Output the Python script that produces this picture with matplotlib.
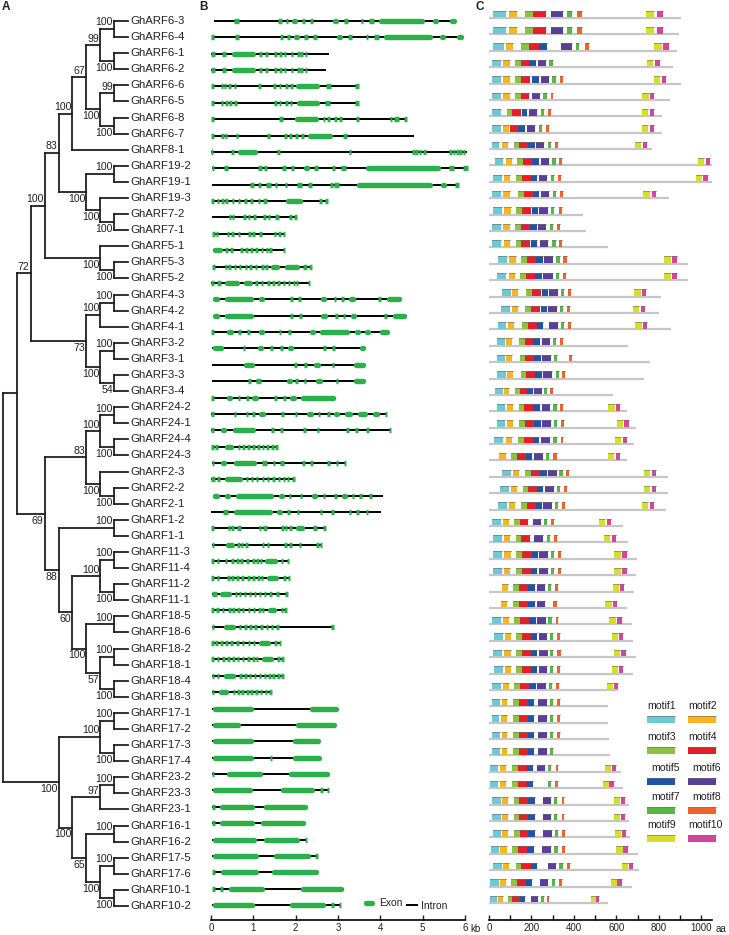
import matplotlib
matplotlib.use('Agg')
import matplotlib.pyplot as plt
from matplotlib.patches import Rectangle

plt.rcParams['font.family'] = ['Liberation Sans', 'DejaVu Sans']

# ---------------- A: tree, node = (depth level, bootstrap, upper child, lower child)
tree = (0, None,
  (1, None,
    (2, 72,
      (3, 100,
        (4, 83,
          (5, 100,
            (6, 67,
              (7, 99, (8, 100, 'GhARF6-3', 'GhARF6-4'), (8, 100, 'GhARF6-1', 'GhARF6-2')),
              (7, 100, (8, 99, 'GhARF6-6', 'GhARF6-5'), (8, 100, 'GhARF6-8', 'GhARF6-7'))),
            'GhARF8-1'),
          (6, 100,
            (8, 100, 'GhARF19-2', 'GhARF19-1'),
            (7, 100, 'GhARF19-3', (8, 100, 'GhARF7-2', 'GhARF7-1')))),
        (7, 100, 'GhARF5-1', (8, 100, 'GhARF5-3', 'GhARF5-2'))),
      (6, 73,
        (7, 100, (8, 100, 'GhARF4-3', 'GhARF4-2'), 'GhARF4-1'),
        (7, 100, (8, 100, 'GhARF3-2', 'GhARF3-1'), (8, 54, 'GhARF3-3', 'GhARF3-4')))),
    (3, 69,
      (6, 83,
        (7, 100, (8, 100, 'GhARF24-2', 'GhARF24-1'), (8, 100, 'GhARF24-4', 'GhARF24-3')),
        (7, 100, 'GhARF2-3', (8, 100, 'GhARF2-2', 'GhARF2-1'))),
      (4, 88,
        (8, 100, 'GhARF1-2', 'GhARF1-1'),
        (5, 60,
          (7, 100, (8, 100, 'GhARF11-3', 'GhARF11-4'), (8, 100, 'GhARF11-2', 'GhARF11-1')),
          (6, 100,
            (8, 100, 'GhARF18-5', 'GhARF18-6'),
            (7, 57, (8, 100, 'GhARF18-2', 'GhARF18-1'), (8, 100, 'GhARF18-4', 'GhARF18-3'))))))),
  (4, 100,
    (7, 100, (8, 100, 'GhARF17-1', 'GhARF17-2'), (8, 100, 'GhARF17-3', 'GhARF17-4')),
    (5, 100,
      (7, 97, (8, 100, 'GhARF23-2', 'GhARF23-3'), 'GhARF23-1'),
      (6, 65,
        (8, 100, 'GhARF16-1', 'GhARF16-2'),
        (7, 100, (8, 100, 'GhARF17-5', 'GhARF17-6'), (8, 100, 'GhARF10-1', 'GhARF10-2'))))))
leaf_level = 9

# ---------------- B: gene structures (kb)
gene_span = [(0.07, 5.80), (0.02, 5.98), (0.0, 2.79), (0.0, 2.71), (0.02, 3.50), (0.02, 3.50),
             (0.02, 4.61), (0.02, 4.80), (0.0, 6.05), (0.02, 6.06), (0.02, 5.86), (0.02, 2.77),
             (0.02, 2.02), (0.04, 1.75), (0.04, 1.74), (0.04, 2.36), (0.0, 2.33), (0.04, 4.50),
             (0.04, 4.63), (0.02, 4.21), (0.02, 3.65), (0.02, 3.65), (0.02, 3.65), (0.02, 2.95),
             (0.0, 4.16), (0.0, 4.25), (0.02, 1.57), (0.02, 3.18), (0.0, 1.97), (0.04, 4.07),
             (0.0, 4.01), (0.02, 2.72), (0.02, 2.62), (0.02, 1.84), (0.02, 1.87), (0.03, 1.80),
             (0.02, 1.77), (0.02, 2.88), (0.02, 1.66), (0.02, 1.71), (0.02, 1.71), (0.02, 1.43),
             (0.02, 3.01), (0.02, 2.97), (0.02, 2.60), (0.02, 2.61), (0.02, 2.80), (0.02, 2.79),
             (0.03, 2.28), (0.03, 2.24), (0.02, 2.26), (0.02, 2.52), (0.04, 2.54), (0.04, 3.13),
             (0.02, 3.07)]
exons = [
    [(0.55, 0.67), (1.58, 1.68), (1.77, 1.81), (1.90, 2.04), (2.14, 2.22), (2.34, 2.42), (2.86, 3.02), (3.13, 3.23), (3.55, 3.59), (3.74, 3.86), (3.95, 5.06), (5.22, 5.38), (5.62, 5.80)],
    [(0.02, 0.06), (0.57, 0.67), (1.63, 1.71), (1.81, 1.85), (1.95, 2.09), (2.20, 2.28), (2.42, 2.50), (2.96, 3.10), (3.23, 3.33), (3.67, 3.71), (3.85, 3.97), (4.07, 5.23), (5.39, 5.55), (5.80, 5.98)],
    [(0.0, 0.10), (0.26, 0.36), (0.47, 1.06), (1.14, 1.20), (1.30, 1.33), (1.49, 1.55), (1.61, 1.67), (1.72, 1.78), (1.88, 1.94), (2.04, 2.10), (2.12, 2.16), (2.22, 2.26)],
    [(0.0, 0.10), (0.26, 0.36), (0.47, 1.06), (1.14, 1.20), (1.30, 1.33), (1.49, 1.55), (1.61, 1.67), (1.72, 1.78), (1.88, 1.94), (2.04, 2.10), (2.12, 2.16), (2.22, 2.26)],
    [(0.02, 0.06), (0.24, 0.28), (0.30, 0.36), (0.41, 0.48), (0.54, 0.60), (1.13, 1.17), (1.47, 1.53), (1.60, 1.66), (1.76, 1.80), (1.87, 1.93), (2.00, 2.57), (2.72, 2.84), (3.40, 3.50)],
    [(0.02, 0.06), (0.24, 0.28), (0.33, 0.39), (0.42, 0.50), (0.55, 0.60), (1.49, 1.55), (1.60, 1.66), (1.76, 1.80), (1.86, 1.92), (2.01, 2.57), (2.70, 2.82), (3.40, 3.50)],
    [(0.02, 0.06), (1.60, 1.70), (1.96, 2.54), (2.64, 2.70), (2.74, 2.80), (2.91, 2.97), (3.02, 3.10), (3.45, 3.48), (4.23, 4.27), (4.33, 4.43), (4.57, 4.61)],
    [(0.02, 0.06), (0.25, 0.30), (0.34, 0.37), (0.59, 0.63), (1.34, 1.38), (1.72, 1.80), (1.85, 1.92), (2.00, 2.04), (2.13, 2.19), (2.28, 2.87), (3.11, 3.21)],
    [(0.0, 0.04), (0.47, 0.55), (0.62, 1.10), (1.57, 1.62), (3.27, 3.30), (4.76, 4.80), (4.84, 4.88), (4.92, 4.96), (5.03, 5.06), (5.64, 5.68), (5.72, 5.76), (5.80, 5.84), (5.88, 5.92), (5.96, 6.0)],
    [(0.02, 0.08), (0.30, 0.40), (1.10, 1.20), (1.27, 1.30), (1.46, 1.60), (1.68, 1.76), (1.88, 1.96), (2.18, 2.32), (2.44, 2.52), (2.87, 2.91), (3.08, 3.18), (3.64, 5.43), (5.62, 5.74), (5.96, 6.06)],
    [(0.02, 0.16), (0.91, 1.01), (1.13, 1.17), (1.29, 1.41), (1.50, 1.56), (1.74, 1.80), (2.02, 2.14), (2.30, 2.38), (2.83, 2.87), (2.90, 3.02), (3.44, 5.24), (5.42, 5.57), (5.76, 5.86)],
    [(0.02, 0.06), (0.14, 0.18), (0.25, 0.30), (0.33, 0.40), (0.50, 0.55), (0.64, 0.69), (0.77, 0.84), (0.93, 0.99), (1.11, 1.16), (1.22, 1.32), (1.75, 2.16), (2.55, 2.62), (2.70, 2.77)],
    [(0.43, 0.46), (0.51, 0.54), (0.78, 0.81), (0.88, 0.92), (1.01, 1.05), (1.25, 1.28), (1.35, 1.39), (1.52, 1.60), (1.86, 1.90), (1.98, 2.02)],
    [(0.04, 0.08), (0.12, 0.16), (0.38, 0.42), (0.48, 0.54), (0.64, 0.69), (0.88, 0.93), (0.98, 1.02), (1.13, 1.21), (1.49, 1.53), (1.59, 1.65), (1.70, 1.75)],
    [(0.04, 0.28), (0.35, 0.39), (0.47, 0.50), (0.70, 0.74), (0.82, 0.86), (0.94, 0.98), (1.06, 1.10), (1.18, 1.22), (1.30, 1.34), (1.39, 1.43), (1.70, 1.74)],
    [(0.04, 0.07), (0.33, 0.37), (0.42, 0.46), (0.54, 0.60), (0.66, 0.71), (0.80, 0.85), (0.91, 0.96), (1.04, 1.08), (1.19, 1.24), (1.29, 1.33), (1.40, 1.63), (1.72, 2.10), (2.18, 2.27), (2.33, 2.36)],
    [(0.0, 0.07), (0.14, 0.23), (0.31, 0.67), (0.76, 0.99), (1.06, 1.10), (1.18, 1.22), (1.34, 1.38), (1.46, 1.50), (1.58, 1.62), (1.70, 1.74), (1.82, 1.86), (1.94, 1.98), (2.02, 2.05), (2.30, 2.33)],
    [(0.04, 0.20), (0.31, 1.02), (1.12, 1.28), (1.88, 1.92), (2.05, 2.13), (2.57, 2.73), (2.90, 2.96), (3.08, 3.14), (3.24, 3.42), (3.97, 4.00), (4.13, 4.50)],
    [(0.04, 0.20), (0.31, 1.02), (1.14, 1.28), (1.88, 1.92), (2.07, 2.15), (2.59, 2.75), (2.94, 3.00), (3.11, 3.17), (3.28, 3.44), (4.11, 4.14), (4.28, 4.63)],
    [(0.02, 0.05), (0.35, 0.53), (0.64, 0.70), (0.86, 0.92), (1.12, 1.28), (1.60, 1.66), (1.82, 1.88), (2.32, 2.48), (2.55, 3.28), (3.38, 3.54), (3.62, 3.78), (3.98, 4.21)],
    [(0.02, 0.30), (0.76, 0.80), (1.09, 1.24), (1.40, 1.46), (1.64, 1.70), (1.80, 1.96), (2.65, 2.71), (2.87, 2.93), (3.50, 3.65)],
    [(0.02, 0.15), (0.76, 1.04), (1.72, 1.87), (1.96, 2.02), (2.20, 2.26), (2.42, 2.58), (2.87, 2.90), (3.36, 3.65)],
    [(0.02, 0.15), (0.90, 0.93), (1.07, 1.17), (1.78, 1.92), (1.99, 2.05), (2.19, 2.25), (2.46, 2.64), (2.96, 2.99), (3.36, 3.65)],
    [(0.02, 0.05), (0.35, 0.51), (0.63, 0.69), (0.83, 0.89), (0.96, 1.12), (1.49, 1.55), (1.71, 1.77), (1.86, 2.02), (2.12, 2.95)],
    [(0.0, 0.07), (0.54, 0.60), (0.82, 0.88), (0.98, 1.04), (1.12, 1.30), (1.66, 1.72), (1.98, 2.04), (2.26, 2.42), (2.52, 2.58), (2.76, 2.80), (2.88, 3.04), (3.16, 3.34), (3.45, 3.70), (3.82, 3.98), (4.10, 4.16)],
    [(0.0, 0.07), (0.21, 0.37), (0.50, 1.06), (1.18, 1.31), (1.43, 1.48), (1.64, 1.71), (1.81, 1.94), (2.18, 2.24), (2.50, 2.56), (2.92, 3.05), (3.21, 3.25), (3.41, 3.47), (3.67, 3.73), (4.20, 4.25)],
    [(0.02, 0.06), (0.11, 0.15), (0.31, 0.54), (0.64, 0.68), (0.75, 0.79), (0.87, 0.91), (0.98, 1.02), (1.10, 1.14), (1.21, 1.25), (1.32, 1.36), (1.43, 1.47), (1.53, 1.57)],
    [(0.02, 0.08), (0.23, 0.37), (0.53, 1.08), (1.20, 1.32), (1.46, 1.52), (1.64, 1.72), (1.82, 1.96), (2.15, 2.21), (2.35, 2.41), (2.52, 2.65), (2.76, 2.80), (2.96, 3.00), (3.14, 3.18)],
    [(0.0, 0.09), (0.15, 0.22), (0.31, 0.75), (0.83, 0.87), (0.95, 0.99), (1.07, 1.11), (1.21, 1.25), (1.33, 1.37), (1.46, 1.50), (1.59, 1.63), (1.70, 1.74), (1.80, 1.84), (1.92, 1.97)],
    [(0.04, 0.20), (0.31, 0.46), (0.57, 1.49), (1.59, 1.75), (1.85, 1.89), (2.10, 2.16), (2.36, 2.51), (2.64, 2.70), (2.91, 2.97), (3.07, 3.22), (3.33, 3.37), (3.50, 3.56), (3.74, 3.80), (3.94, 4.07)],
    [(0.0, 0.13), (0.29, 0.41), (0.53, 1.45), (1.55, 1.69), (1.80, 1.86), (2.02, 2.08), (2.30, 2.43), (2.57, 2.63), (2.84, 2.90), (3.01, 3.14), (3.26, 3.30), (3.43, 3.49), (3.65, 3.71), (3.87, 4.01)],
    [(0.02, 0.05), (0.41, 0.45), (0.49, 0.53), (0.62, 0.70), (1.14, 1.17), (1.24, 1.32), (1.67, 1.71), (1.75, 1.79), (1.85, 1.91), (1.98, 2.22), (2.42, 2.50), (2.64, 2.72)],
    [(0.02, 0.08), (0.33, 0.55), (0.63, 0.68), (0.71, 0.75), (0.82, 0.86), (1.21, 1.25), (1.33, 1.37), (1.74, 1.78), (1.86, 1.90), (2.08, 2.12), (2.49, 2.53), (2.57, 2.62)],
    [(0.02, 0.06), (0.15, 0.19), (0.33, 0.37), (0.48, 0.53), (0.60, 0.64), (0.70, 0.74), (0.84, 0.88), (0.98, 1.02), (1.08, 1.12), (1.16, 1.20), (1.27, 1.57), (1.65, 1.71), (1.79, 1.84)],
    [(0.02, 0.06), (0.15, 0.19), (0.39, 0.43), (0.49, 0.53), (0.61, 0.65), (0.72, 0.76), (0.86, 0.90), (0.98, 1.02), (1.10, 1.14), (1.19, 1.23), (1.30, 1.59), (1.70, 1.76), (1.82, 1.87)],
    [(0.03, 0.13), (0.20, 0.49), (0.57, 0.61), (0.66, 0.70), (0.78, 0.82), (0.90, 0.94), (1.02, 1.06), (1.14, 1.18), (1.26, 1.30), (1.38, 1.42), (1.55, 1.59), (1.76, 1.80)],
    [(0.02, 0.06), (0.13, 0.17), (0.26, 0.30), (0.42, 0.46), (0.51, 0.55), (0.63, 0.67), (0.74, 0.78), (0.88, 0.92), (1.00, 1.04), (1.12, 1.16), (1.21, 1.25), (1.34, 1.55), (1.65, 1.71), (1.74, 1.77)],
    [(0.02, 0.08), (0.29, 0.58), (0.67, 0.71), (0.79, 0.83), (0.91, 0.95), (1.03, 1.07), (1.17, 1.21), (1.30, 1.34), (1.42, 1.46), (1.55, 1.59), (2.85, 2.88)],
    [(0.02, 0.06), (0.11, 0.15), (0.23, 0.27), (0.35, 0.39), (0.46, 0.50), (0.61, 0.65), (0.74, 0.78), (0.88, 0.92), (1.00, 1.04), (1.12, 1.41), (1.50, 1.55), (1.61, 1.66)],
    [(0.02, 0.06), (0.15, 0.19), (0.27, 0.31), (0.39, 0.43), (0.51, 0.55), (0.62, 0.66), (0.74, 0.78), (0.86, 0.90), (0.98, 1.02), (1.07, 1.11), (1.18, 1.49), (1.57, 1.63), (1.67, 1.71)],
    [(0.02, 0.07), (0.14, 0.19), (0.29, 0.58), (0.68, 0.72), (0.80, 0.84), (0.90, 0.94), (1.02, 1.06), (1.14, 1.18), (1.26, 1.30), (1.36, 1.40), (1.45, 1.49), (1.57, 1.61), (1.67, 1.71)],
    [(0.02, 0.08), (0.17, 0.43), (0.52, 0.56), (0.63, 0.67), (0.73, 0.77), (0.84, 0.88), (0.94, 0.98), (1.06, 1.10), (1.16, 1.20), (1.28, 1.32), (1.37, 1.43)],
    [(0.02, 1.02), (2.32, 3.01)],
    [(0.02, 0.71), (1.98, 2.97)],
    [(0.02, 1.0), (1.91, 2.60)],
    [(0.02, 1.02), (1.40, 1.43), (1.92, 2.61)],
    [(0.02, 0.07), (0.37, 1.21), (1.83, 2.80)],
    [(0.02, 0.98), (1.63, 2.46), (2.58, 2.63), (2.74, 2.79)],
    [(0.03, 0.08), (0.19, 1.04), (1.24, 2.28)],
    [(0.03, 0.08), (0.19, 1.04), (1.17, 2.24)],
    [(0.02, 1.09), (1.24, 2.10), (2.22, 2.26)],
    [(0.02, 1.13), (1.47, 2.36), (2.46, 2.52)],
    [(0.04, 0.09), (0.21, 1.12), (1.43, 2.54)],
    [(0.04, 0.09), (0.23, 0.27), (0.41, 1.28), (2.10, 3.13)],
    [(0.02, 1.04), (1.85, 2.72), (2.84, 2.89), (3.02, 3.07)],
]

# ---------------- C: conserved motifs (aa)
prot_len = [904, 896, 884, 865, 907, 852, 817, 817, 766, 1085, 1075, 847, 441, 456, 559, 936, 936,
            809, 802, 857, 653, 758, 730, 583, 652, 692, 683, 648, 842, 842, 832, 630, 653, 696,
            692, 683, 648, 672, 680, 691, 680, 609, 559, 559, 565, 570, 622, 633, 659, 659, 664,
            700, 708, 672, 559]
motifs = [
    [(1, 20, 78), (2, 96, 133), (3, 170, 209), (4, 209, 267), (6, 292, 350), (7, 369, 392), (8, 416, 436), (9, 739, 779), (10, 790, 821)],
    [(1, 20, 78), (2, 96, 133), (3, 170, 209), (4, 209, 267), (6, 292, 350), (7, 369, 392), (8, 416, 436), (9, 739, 779), (10, 790, 821)],
    [(1, 17, 71), (2, 78, 115), (3, 149, 188), (4, 188, 237), (5, 237, 272), (6, 339, 392), (7, 410, 425), (8, 452, 471), (9, 779, 816), (10, 818, 848)],
    [(1, 16, 55), (2, 68, 99), (3, 122, 151), (4, 151, 190), (5, 190, 221), (6, 229, 268), (7, 283, 300), (9, 746, 774), (10, 782, 805)],
    [(1, 16, 55), (2, 68, 99), (3, 122, 151), (4, 151, 193), (5, 204, 237), (6, 243, 283), (7, 298, 314), (8, 334, 347), (9, 777, 805), (10, 813, 834)],
    [(1, 16, 55), (2, 68, 99), (3, 122, 151), (4, 151, 190), (6, 201, 240), (7, 256, 272), (8, 290, 303), (9, 722, 754), (10, 758, 779)],
    [(1, 16, 55), (3, 83, 110), (4, 110, 151), (5, 154, 180), (6, 190, 228), (7, 245, 259), (8, 276, 290), (9, 722, 750), (10, 758, 779)],
    [(1, 16, 55), (2, 68, 96), (4, 99, 138), (5, 138, 169), (6, 177, 216), (7, 235, 248), (8, 268, 283), (9, 722, 750), (10, 758, 779)],
    [(1, 13, 47), (2, 63, 91), (3, 118, 143), (4, 143, 185), (5, 185, 216), (6, 221, 261), (7, 276, 292), (8, 311, 327), (9, 690, 716), (10, 724, 746)],
    [(1, 28, 68), (2, 78, 110), (3, 133, 162), (4, 162, 204), (5, 204, 237), (6, 243, 283), (7, 298, 314), (8, 331, 345), (9, 986, 1013), (10, 1021, 1041)],
    [(1, 20, 60), (2, 71, 99), (3, 127, 154), (4, 154, 196), (5, 196, 228), (6, 236, 275), (7, 290, 306), (8, 323, 338), (9, 975, 1005), (10, 1010, 1031)],
    [(1, 16, 55), (2, 68, 99), (3, 138, 165), (4, 165, 206), (5, 206, 237), (6, 245, 284), (7, 300, 316), (8, 334, 347), (9, 727, 758), (10, 766, 787)],
    [(1, 20, 60), (2, 71, 102), (3, 127, 154), (4, 154, 196), (5, 201, 232), (6, 237, 276), (7, 292, 306), (8, 330, 344)],
    [(1, 16, 55), (2, 68, 99), (3, 122, 149), (4, 149, 193), (5, 193, 224), (6, 229, 268), (7, 287, 303), (8, 322, 335)],
    [(1, 16, 55), (2, 71, 99), (3, 127, 151), (4, 151, 193), (5, 196, 224), (6, 240, 279), (7, 298, 314), (8, 331, 345)],
    [(1, 44, 83), (2, 96, 126), (3, 151, 181), (4, 181, 221), (5, 221, 253), (6, 259, 300), (7, 316, 334), (8, 350, 366), (9, 826, 856), (10, 864, 887)],
    [(1, 39, 78), (2, 94, 122), (3, 146, 174), (4, 174, 217), (5, 217, 248), (6, 256, 300), (7, 316, 331), (8, 350, 363), (9, 826, 856), (10, 864, 887)],
    [(1, 63, 104), (2, 110, 138), (3, 174, 204), (4, 204, 243), (5, 248, 276), (6, 283, 323), (7, 339, 353), (8, 374, 386), (9, 684, 714), (10, 722, 739)],
    [(1, 57, 99), (2, 107, 135), (3, 170, 198), (4, 198, 240), (5, 243, 272), (6, 279, 319), (7, 334, 350), (8, 369, 381), (9, 677, 706), (10, 714, 735)],
    [(1, 41, 80), (2, 91, 119), (3, 157, 182), (4, 182, 224), (5, 228, 256), (6, 283, 323), (7, 338, 353), (8, 371, 386), (9, 688, 719), (10, 724, 746)],
    [(1, 36, 75), (2, 80, 110), (3, 143, 170), (4, 170, 209), (5, 209, 240), (6, 248, 287), (7, 300, 316), (8, 334, 347)],
    [(1, 36, 75), (2, 80, 110), (3, 146, 170), (4, 170, 212), (5, 212, 243), (6, 251, 290), (7, 306, 322), (8, 377, 389)],
    [(1, 39, 78), (2, 86, 115), (3, 149, 174), (4, 174, 217), (5, 217, 248), (6, 256, 298), (7, 314, 330), (8, 345, 360)],
    [(1, 28, 68), (2, 71, 94), (3, 122, 146), (4, 146, 181), (5, 181, 206), (6, 214, 248), (7, 261, 275), (8, 289, 301)],
    [(1, 36, 75), (2, 86, 115), (3, 141, 166), (4, 166, 209), (5, 209, 240), (6, 248, 287), (7, 303, 319), (8, 334, 350), (9, 562, 593), (10, 598, 617)],
    [(1, 36, 75), (2, 86, 115), (3, 143, 170), (4, 170, 212), (5, 212, 243), (6, 251, 290), (7, 306, 322), (8, 339, 353), (9, 604, 633), (10, 637, 659)],
    [(1, 25, 64), (2, 80, 110), (3, 138, 165), (4, 165, 209), (5, 209, 237), (6, 245, 287), (7, 303, 319), (8, 338, 350), (9, 593, 622), (10, 630, 652)],
    [(2, 47, 78), (3, 102, 130), (4, 130, 173), (5, 174, 204), (6, 212, 253), (7, 268, 284), (8, 303, 319), (9, 562, 590), (10, 598, 617)],
    [(1, 63, 104), (2, 111, 141), (3, 170, 196), (4, 196, 240), (5, 240, 272), (6, 276, 319), (7, 330, 347), (8, 363, 378), (9, 730, 761), (10, 766, 787)],
    [(1, 52, 94), (2, 104, 130), (3, 159, 185), (4, 185, 228), (5, 228, 256), (6, 264, 306), (7, 319, 334), (8, 353, 366), (9, 730, 758), (10, 766, 787)],
    [(1, 44, 86), (2, 96, 122), (3, 149, 177), (4, 177, 220), (5, 220, 251), (6, 256, 298), (7, 311, 327), (8, 342, 358), (9, 722, 750), (10, 758, 777)],
    [(1, 16, 55), (2, 68, 94), (3, 119, 146), (4, 146, 185), (6, 206, 245), (7, 259, 275), (8, 292, 306), (9, 518, 546), (10, 554, 575)],
    [(1, 20, 60), (2, 72, 99), (3, 126, 152), (4, 152, 193), (6, 214, 256), (7, 272, 287), (8, 306, 322), (9, 542, 570), (10, 578, 598)],
    [(1, 20, 60), (2, 72, 102), (3, 127, 157), (4, 157, 201), (5, 201, 229), (6, 236, 276), (7, 290, 306), (8, 323, 338), (9, 590, 620), (10, 628, 648)],
    [(1, 20, 60), (2, 71, 99), (3, 126, 154), (4, 154, 198), (5, 198, 228), (6, 236, 276), (7, 290, 306), (8, 323, 338), (9, 590, 620), (10, 628, 648)],
    [(2, 60, 88), (3, 115, 141), (4, 141, 185), (5, 185, 217), (6, 224, 264), (7, 276, 292), (8, 311, 323), (9, 582, 612), (10, 617, 637)],
    [(2, 57, 86), (3, 111, 141), (4, 141, 185), (5, 185, 217), (6, 224, 264), (8, 303, 319), (9, 546, 578), (10, 582, 604)],
    [(1, 16, 55), (2, 68, 96), (3, 119, 146), (4, 146, 188), (5, 188, 220), (6, 228, 267), (7, 279, 295), (8, 314, 327), (9, 567, 597), (10, 601, 625)],
    [(1, 24, 64), (2, 75, 102), (3, 127, 154), (4, 154, 196), (5, 196, 228), (6, 236, 275), (7, 287, 303), (8, 322, 334), (9, 578, 606), (10, 612, 633)],
    [(1, 20, 60), (2, 72, 102), (3, 126, 154), (4, 154, 196), (5, 196, 228), (6, 236, 276), (7, 287, 303), (8, 322, 338), (9, 589, 617), (10, 622, 644)],
    [(1, 24, 64), (2, 75, 102), (3, 127, 154), (4, 154, 196), (5, 196, 228), (6, 236, 275), (7, 287, 303), (8, 322, 334), (9, 578, 606), (10, 612, 633)],
    [(1, 13, 55), (2, 64, 94), (3, 119, 146), (4, 146, 188), (5, 188, 220), (6, 228, 268), (7, 283, 298), (8, 316, 330), (9, 554, 586), (10, 589, 609)],
    [(1, 13, 52), (2, 60, 86), (3, 115, 141), (4, 141, 182), (5, 182, 212), (6, 232, 272), (7, 287, 303), (8, 319, 334)],
    [(1, 13, 49), (2, 57, 83), (3, 115, 141), (4, 141, 182), (5, 182, 212), (6, 232, 272), (7, 287, 303), (8, 319, 334)],
    [(1, 13, 52), (2, 60, 86), (3, 115, 141), (4, 141, 182), (5, 182, 212), (6, 232, 272), (7, 287, 303), (8, 319, 334)],
    [(1, 13, 52), (2, 60, 86), (3, 115, 141), (4, 141, 182), (5, 182, 212), (6, 232, 272), (7, 287, 303)],
    [(1, 5, 44), (2, 52, 78), (3, 110, 135), (4, 135, 177), (5, 177, 206), (6, 226, 264), (7, 279, 292), (8, 314, 327), (9, 546, 573), (10, 578, 598)],
    [(1, 5, 44), (2, 52, 78), (3, 110, 135), (4, 135, 177), (5, 177, 206), (7, 276, 290), (8, 311, 323), (9, 535, 565), (10, 567, 589)],
    [(1, 16, 55), (2, 60, 88), (3, 118, 143), (4, 143, 185), (5, 185, 217), (6, 253, 292), (7, 306, 322), (8, 342, 355), (9, 589, 617), (10, 620, 641)],
    [(1, 16, 55), (2, 60, 88), (3, 118, 143), (4, 143, 185), (5, 185, 217), (6, 253, 292), (7, 306, 322), (8, 342, 355), (9, 589, 617), (10, 620, 641)],
    [(1, 17, 57), (2, 63, 91), (3, 119, 146), (4, 146, 185), (5, 185, 217), (6, 256, 295), (7, 311, 327), (8, 345, 358), (9, 593, 622), (10, 625, 645)],
    [(1, 8, 47), (2, 52, 83), (3, 110, 138), (4, 138, 181), (5, 181, 212), (6, 251, 292), (7, 308, 323), (8, 342, 358), (9, 598, 630), (10, 633, 653)],
    [(1, 20, 60), (2, 64, 96), (3, 126, 151), (4, 151, 196), (5, 196, 224), (6, 276, 316), (7, 331, 347), (8, 366, 381), (9, 628, 656), (10, 661, 680)],
    [(1, 5, 47), (2, 52, 78), (3, 104, 130), (4, 130, 174), (5, 174, 204), (6, 240, 279), (7, 295, 311), (8, 330, 342), (9, 573, 601), (10, 604, 625)],
    [(1, 5, 39), (2, 41, 64), (3, 88, 110), (4, 110, 146), (5, 146, 170), (6, 198, 232), (7, 245, 259), (8, 272, 284), (9, 479, 504), (10, 504, 520)],
]
motif_names = ['motif%d' % i for i in range(1, 11)]
motif_colors = ['#6ec8d6', '#f6b61e', '#8cc43f', '#e61e2a', '#1f55a4',
                '#5a3f98', '#55b947', '#f0642a', '#d6df26', '#d5469a']

exon_color = '#2bb04a'
ink = '#231f20'

W, H = 729, 935
fig = plt.figure(figsize=(W / 100, H / 100), dpi=100)
top_px, bot_px = 5, 920


def add_ax(x0, x1):
    return fig.add_axes([x0 / W, 1 - bot_px / H, (x1 - x0) / W, (bot_px - top_px) / H])


def row_lim(y_first, y_last, n):
    step = (y_last - y_first) / (n - 1)
    return (bot_px - y_first) / step, (top_px - y_first) / step


# ---------------- A
axA = add_ax(0, 200)
step_lvl = 125 / leaf_level
axA.set_xlim(-3 / step_lvl, 197 / step_lvl)
axA.set_ylim(*row_lim(21, 906, 56))
axA.axis('off')
leaves = []
lw_tree = 1.3


def walk(node, parent_level=None, upper=True):
    if isinstance(node, str):
        y = len(leaves)
        leaves.append(node)
        x = leaf_level
        axA.text(x + 0.15, y, node, fontsize=8.2, va='center', ha='left', color=ink)
    else:
        lvl, bs, a, b = node
        ya = walk(a, lvl, True)
        yb = walk(b, lvl, False)
        y = (ya + yb) / 2
        x = lvl
        axA.plot([lvl, lvl], [ya, yb], color=ink, lw=lw_tree, solid_capstyle='projecting')
        if bs is not None:
            axA.text(lvl - 0.08, y - 0.1 if upper else y + 0.12, str(bs), fontsize=7.6,
                     ha='right', va='bottom' if upper else 'top', color=ink)
    if parent_level is not None:
        axA.plot([parent_level, x], [y, y], color=ink, lw=lw_tree, solid_capstyle='projecting')
    return y


walk(tree)

# ---------------- B
axB = add_ax(211, 465)
axB.set_xlim(0, 6)
axB.set_ylim(*row_lim(21, 905, len(exons)))
for s in ['top', 'right', 'left']:
    axB.spines[s].set_visible(False)
axB.spines['bottom'].set_linewidth(1.2)
axB.set_yticks([])
axB.set_xticks(range(7))
axB.tick_params(axis='x', direction='in', length=3.5, width=1.0, pad=2.5, labelsize=7, colors=ink)
kb_px = 254 / 6
exon_lw = 3.9
rad = exon_lw * 100 / 72 / 2 / kb_px
for r, (span, ex) in enumerate(zip(gene_span, exons)):
    axB.plot([span[0], span[1]], [r, r], color='black', lw=1.4, solid_capstyle='butt', clip_on=False, zorder=2)
    for a, b in ex:
        if b - a > 2 * rad:
            axB.plot([a + rad, b - rad], [r, r], color=exon_color, lw=exon_lw,
                     solid_capstyle='round', clip_on=False, zorder=3)
        else:
            c, hw = (a + b) / 2, max(b - a, 0.06) / 2
            axB.plot([c - hw, c + hw], [r, r], color=exon_color, lw=exon_lw,
                     solid_capstyle='butt', clip_on=False, zorder=3)

# ---------------- C
axC = add_ax(489, 712)
aa_px = 0.2122
axC.set_xlim(0, 223 / aa_px)
axC.set_ylim(*row_lim(18, 903, len(prot_len)))
for s in ['top', 'right', 'left']:
    axC.spines[s].set_visible(False)
axC.spines['bottom'].set_linewidth(1.2)
axC.set_yticks([])
axC.set_xticks(range(0, 1001, 200))
axC.set_xticks(range(0, 1001, 100), minor=True)
axC.tick_params(axis='x', which='major', direction='in', length=3.5, width=1.0, pad=2.5, labelsize=7, colors=ink)
axC.tick_params(axis='x', which='minor', direction='in', length=3.5, width=1.0)
box_h = 0.40
for r, (L, ms) in enumerate(zip(prot_len, motifs)):
    axC.plot([0, L], [r, r], color='#c6c6c6', lw=1.6, solid_capstyle='butt', zorder=1)
    for m, a, b in ms:
        axC.add_patch(Rectangle((a, r - 0.05 - box_h), b - a, box_h, facecolor=motif_colors[m - 1],
                                edgecolor='none', zorder=2))
        axC.plot([a, b], [r - 0.05 - box_h, r - 0.05 - box_h], color='#6d6d6d', lw=0.6, alpha=0.7, zorder=3)

# overlay on top for letters, unit labels and legends
ov = fig.add_axes([0, 0, 1, 1])
ov.set_zorder(10)
ov.set_xlim(0, W)
ov.set_ylim(H, 0)
ov.axis('off')

ov.text(470, 929, 'kb', fontsize=7, va='center', ha='left', color=ink)
ov.text(716, 929, 'aa', fontsize=7, va='center', ha='left', color=ink)

# motif legend
leg_rows = [706, 737, 768, 797, 825]
for i, name in enumerate(motif_names):
    col, row = i % 2, i // 2
    x0 = 647 if col == 0 else 688
    ty = leg_rows[row]
    ov.text(x0 + (4 if row in (2, 3) else 0), ty, name, fontsize=7.6, va='center', ha='left', color=ink)
    ov.add_patch(Rectangle((x0, ty + 10), 28, 6.5, facecolor=motif_colors[i], edgecolor='none'))
    ov.plot([x0, x0 + 28], [ty + 10, ty + 10], color='#6d6d6d', lw=0.6, alpha=0.7)

# exon / intron legend
ov.plot([366, 372], [903, 903], color=exon_color, lw=exon_lw, solid_capstyle='round')
ov.text(379, 903, 'Exon', fontsize=7.4, va='center', ha='left', color=ink)
ov.plot([407, 417], [905, 905], color='black', lw=1.4)
ov.text(421, 906, 'Intron', fontsize=7.4, va='center', ha='left', color=ink)

# panel letters
for x, t in [(2, 'A'), (199, 'B'), (476, 'C')]:
    ov.text(x, 7, t, fontsize=8.5, fontweight='bold', va='center', ha='left', color=ink)

fig.savefig('out.png', dpi=100)
